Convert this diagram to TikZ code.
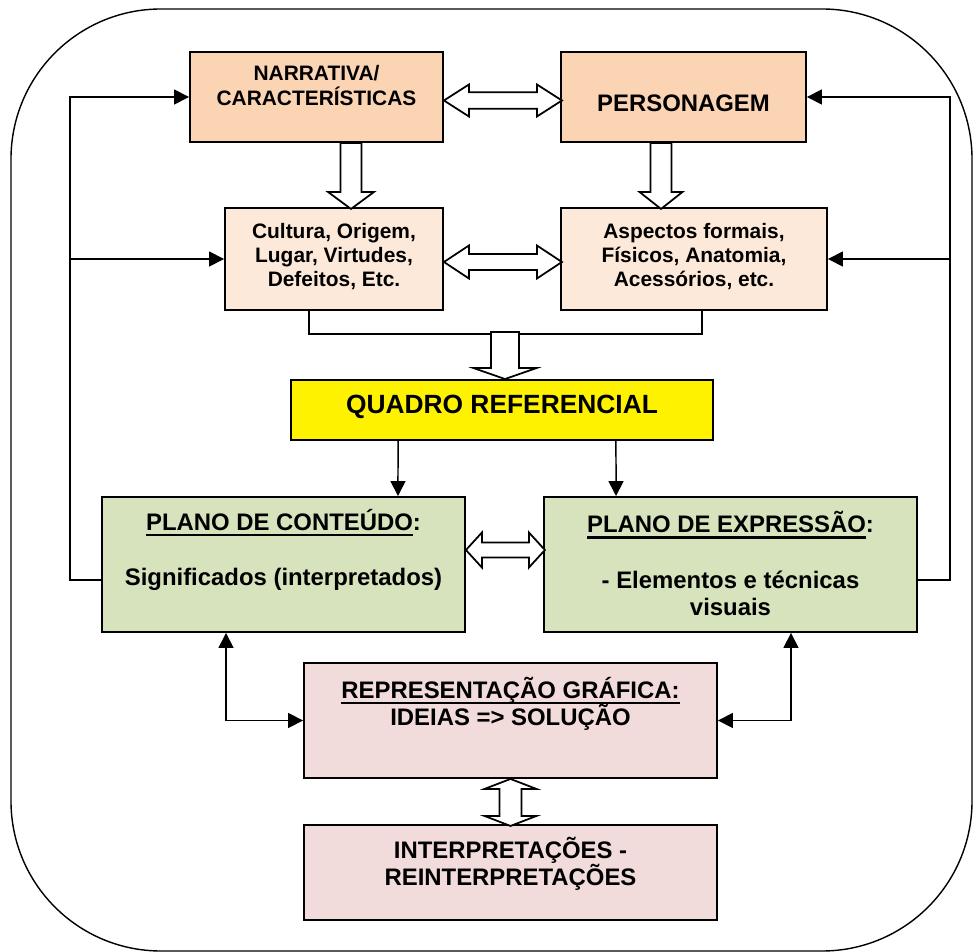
\documentclass[tikz,border=0pt]{standalone}
\usepackage{fontspec}
\setmainfont{Liberation Sans}
\usetikzlibrary{arrows.meta}
\definecolor{topfill}{HTML}{FBD4B4}
\definecolor{subfill}{HTML}{FDE9D9}
\definecolor{planfill}{HTML}{D6E3BC}
\definecolor{repfill}{HTML}{F2DBDB}

% hollow block arrows: start, length, head length, head half width, shaft half width
\newcommand{\hdouble}[5]{\draw[hollow] (#1) -- ++(#3,-#4) -- ++(0,#4-#5) -- ++(#2-2*#3,0) -- ++(0,#5-#4) -- ++(#3,#4) -- ++(-#3,#4) -- ++(0,#5-#4) -- ++(-#2+2*#3,0) -- ++(0,#4-#5) -- cycle;}
\newcommand{\vdouble}[5]{\draw[hollow] (#1) -- ++(#4,#3) -- ++(#5-#4,0) -- ++(0,#2-2*#3) -- ++(#4-#5,0) -- ++(-#4,#3) -- ++(-#4,-#3) -- ++(#4-#5,0) -- ++(0,-#2+2*#3) -- ++(#5-#4,0) -- cycle;}
\newcommand{\vsingle}[5]{\draw[hollow] (#1) ++(-#5,0) -- ++(0,#2-#3) -- ++(#5-#4,0) -- ++(#4,#3) -- ++(#4,-#3) -- ++(#5-#4,0) -- ++(0,-#2+#3) -- cycle;}
\newcommand{\ulbold}[1]{\setbox0\hbox{#1}\rlap{\rule[-3.3pt]{\wd0}{1.3pt}}\box0}

\begin{document}
\begin{tikzpicture}[
    x=0.02cm, y=-0.02cm,
    box/.style={draw=black, line width=1.1pt, inner sep=0pt},
    topbox/.style={box, fill=topfill, minimum height=1.8cm},
    subbox/.style={box, fill=subfill, minimum height=2.04cm},
    refbox/.style={box, fill=yellow, minimum height=1.2cm},
    planbox/.style={box, fill=planfill, minimum height=2.7cm},
    repbox/.style={box, fill=repfill, minimum width=8.26cm},
    smalltxt/.style={font=\bfseries\fontsize{11.9}{13.9}\selectfont, align=center, inner sep=0pt},
    bigtxt/.style={font=\bfseries\fontsize{13.6}{15.5}\selectfont, align=center, inner sep=0pt},
    reftxt/.style={font=\bfseries\fontsize{15}{17}\selectfont, inner sep=0pt},
    wire/.style={line width=0.85pt},
    arrow/.style={wire, -{Triangle[length=0.3cm, width=0.3cm]}},
    both/.style={wire, {Triangle[length=0.3cm, width=0.3cm]}-{Triangle[length=0.3cm, width=0.3cm]}},
    hollow/.style={draw=black, fill=white, line width=1pt, line join=miter}
]
\useasboundingbox (0,0) rectangle (974,952);
\draw[line width=0.8pt, rounded corners=3cm] (11,9) rectangle (972,951);

\node[topbox, minimum width=5.06cm] (narr) at (316.5,97) {};
\node[topbox, minimum width=4.9cm] (pers) at (683.5,97) {};
\node[subbox, minimum width=4.36cm] (cult) at (334,259) {};
\node[subbox, minimum width=5.32cm] (asp) at (694,259) {};
\node[refbox, minimum width=8.44cm] (quadro) at (502,410) {};
\node[planbox, minimum width=7.26cm] (cont) at (283.5,564.5) {};
\node[planbox, minimum width=7.46cm] (expr) at (730.5,564.5) {};
\node[repbox, minimum height=2.3cm] (repr) at (510.5,720.5) {};
\node[repbox, minimum height=1.9cm] (interp) at (510.5,872.5) {};

\node[smalltxt] (narr-t) at (316.5,85.5) {NARRATIVA/\\CARACTERÍSTICAS};
\node[bigtxt] (pers-t) at (683.5,103) {PERSONAGEM};
\node[smalltxt] (cult-t) at (334,256.5) {Cultura, Origem,\\Lugar, Virtudes,\\Defeitos, Etc.};
\node[smalltxt] (asp-t) at (694,256.5) {Aspectos formais,\\Físicos, Anatomia,\\Acessórios, etc.};
\node[reftxt] (quadro-t) at (502,407) {QUADRO REFERENCIAL};
\node[bigtxt] (cont-t) at (283.5,550) {\ulbold{PLANO DE CONTEÚDO}:\\[16pt]Significados (interpretados)};
\node[bigtxt] (expr-t) at (730.5,563.5) {\ulbold{PLANO DE EXPRESSÃO}:\\[16pt]- Elementos e técnicas\\visuais};
\node[bigtxt] (repr-t) at (510.5,703.5) {\ulbold{REPRESENTAÇÃO GRÁFICA:}\\IDEIAS => SOLUÇÃO};
\node[bigtxt] (interp-t) at (510.5,864) {INTERPRETAÇÕES -\\REINTERPRETAÇÕES};

% feedback loops on both sides
\draw[arrow] ([yshift=-0.31cm]cont.west) -| (70,97) -- (narr.west);
\draw[arrow] ([xshift=-3.1cm]cult.west) -- (cult.west);
\draw[arrow] ([yshift=-0.31cm]expr.east) -| (950,97) -- (pers.east);
\draw[arrow] ([xshift=2.46cm]asp.east) -- (asp.east);

% hollow arrows
\hdouble{[yshift=-0.07cm]narr.east}{118}{25}{16}{8.3}
\hdouble{[yshift=-0.06cm]cult.east}{118}{25}{16.5}{8}
\vsingle{[xshift=0.69cm]narr.south}{66}{17}{23}{10.5}
\vsingle{[xshift=-0.45cm]pers.south}{66}{17}{21.5}{10.5}
\draw[wire] ([xshift=-0.5cm]cult.south) -- ++(0,23) -| ([xshift=0.16cm]asp.south);
\vsingle{[xshift=0.06cm, yshift=0.94cm]quadro.north}{47}{11}{31.5}{14}
\hdouble{[yshift=0.29cm]cont.east}{79}{16}{17.5}{7.5}
\vdouble{repr.south}{47}{10}{26}{11}

\draw[arrow] ([xshift=-2.08cm]quadro.south) -- ([xshift=2.29cm]cont.north);
\draw[arrow] ([xshift=2.28cm]quadro.south) -- ([xshift=-2.29cm]expr.north);
\draw[both] ([xshift=-1.15cm]cont.south) |- (repr.west);
\draw[both] ([xshift=1.21cm]expr.south) |- (repr.east);
\end{tikzpicture}
\end{document}
